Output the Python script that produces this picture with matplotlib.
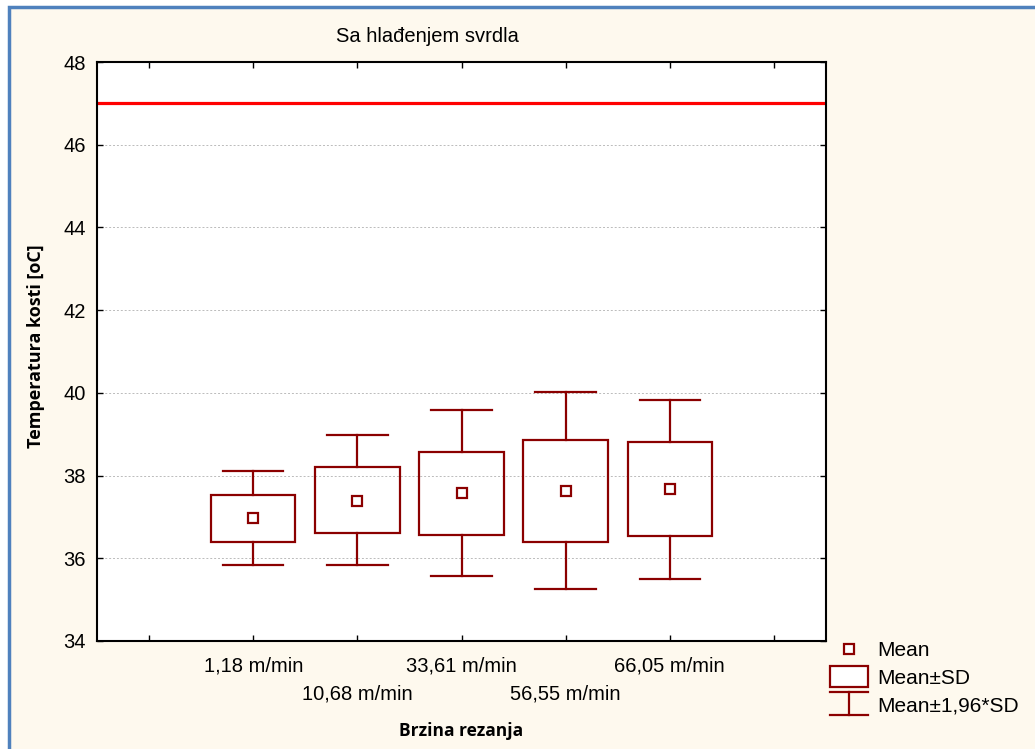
import numpy as np
import matplotlib.pyplot as plt
from matplotlib.patches import Rectangle

# podaci ocitani sa grafika
kategorije = ["1,18 m/min", "10,68 m/min", "33,61 m/min", "56,55 m/min", "66,05 m/min"]
mean = [36.97, 37.39, 37.58, 37.63, 37.68]
sd_gore = [37.53, 38.21, 38.57, 38.86, 38.81]
sd_dole = [36.40, 36.61, 36.56, 36.40, 36.54]
ci_gore = [38.11, 38.98, 39.59, 40.02, 39.83]
ci_dole = [35.84, 35.84, 35.57, 35.26, 35.50]
granica = 47.0
legenda = ["Mean", "Mean±SD", "Mean±1,96*SD"]

boja = "#8B0000"
pozadina = "#FEF9EE"
W, H = 1035, 749

plt.rcParams["font.family"] = ["Liberation Sans", "DejaVu Sans"]

fig = plt.figure(figsize=(W / 100, H / 100), dpi=100, facecolor="white")
# okvir slike
fig.patches.append(Rectangle((8.5 / W, -0.05), 1.2, 1.05 - 6.5 / H,
                             transform=fig.transFigure, facecolor=pozadina,
                             edgecolor="#4F81BD", linewidth=2.5, zorder=-10))

ax = fig.add_axes([97 / W, 1 - 641 / H, (826 - 97) / W, (641 - 62) / H])
ax.set_facecolor("white")

pozicije = np.arange(1, len(kategorije) + 1)
sirina_box = 0.81
sirina_cap = 0.58
for x, m, sg, sd, cg, cd in zip(pozicije, mean, sd_gore, sd_dole, ci_gore, ci_dole):
    ax.add_patch(Rectangle((x - sirina_box / 2, sd), sirina_box, sg - sd,
                           facecolor="none", edgecolor=boja, linewidth=1.6, zorder=3))
    ax.plot([x, x], [sg, cg], color=boja, lw=1.6, zorder=3)
    ax.plot([x, x], [sd, cd], color=boja, lw=1.6, zorder=3)
    ax.plot([x - sirina_cap / 2, x + sirina_cap / 2], [cg, cg], color=boja, lw=1.6, zorder=3)
    ax.plot([x - sirina_cap / 2, x + sirina_cap / 2], [cd, cd], color=boja, lw=1.6, zorder=3)
ax.plot(pozicije, mean, ls="none", marker="s", ms=7, mfc="white", mec=boja, mew=1.6, zorder=4)

ax.axhline(granica, color="red", lw=2.3, zorder=2)

ax.set_xlim(-0.5, 6.5)
ax.set_ylim(34, 48)
ax.set_yticks(np.arange(34, 49, 2))
ax.set_xticks(np.arange(0, 7))
etikete = [""] + [k if i % 2 == 0 else "\n" + k for i, k in enumerate(kategorije)] + [""]
ax.set_xticklabels(etikete)
for t in ax.get_xticklabels():
    t.set_linespacing(1.6)
ax.tick_params(direction="in", top=True, right=True, length=4, width=1,
               labelsize=14.5, pad=8)
ax.tick_params(axis="x", pad=11)
ax.grid(axis="y", ls=(0, (2, 2)), color="#bbbbbb", lw=0.7)
ax.set_axisbelow(True)
for s in ax.spines.values():
    s.set_linewidth(1.5)

fig.text(427 / W, 1 - 37 / H, "Sa hlađenjem svrdla", fontsize=14.5,
         ha="center", va="center")
fig.text(461 / W, 1 - 731 / H, "Brzina rezanja", fontsize=12.5, fontweight="bold",
         family=["Open Sans", "DejaVu Sans"], ha="center", va="center")
fig.text(36 / W, 1 - 346 / H, "Temperatura kosti [oC]", fontsize=13, fontweight="bold",
         family=["Open Sans", "DejaVu Sans"], ha="center", va="center", rotation=90)

# legenda - crtana rucno u pikselima
lax = fig.add_axes([826 / W, 0, (W - 826) / W, (H - 630) / H])
lax.set_xlim(826, W)
lax.set_ylim(H, 630)
lax.axis("off")
lax.plot([849], [649], ls="none", marker="s", ms=7, mfc="white", mec=boja, mew=1.6)
lax.add_patch(Rectangle((830, 666), 38, 21, facecolor="white", edgecolor=boja, linewidth=1.6))
lax.plot([830, 868], [692, 692], color=boja, lw=1.6)
lax.plot([849, 849], [692, 715], color=boja, lw=1.6)
lax.plot([830, 868], [715, 715], color=boja, lw=1.6)
for i, tekst in enumerate(legenda):
    lax.text(877, 651 + i * 27.5, tekst, fontsize=15, va="center", ha="left")

fig.savefig("out.png", dpi=100, facecolor=fig.get_facecolor())
